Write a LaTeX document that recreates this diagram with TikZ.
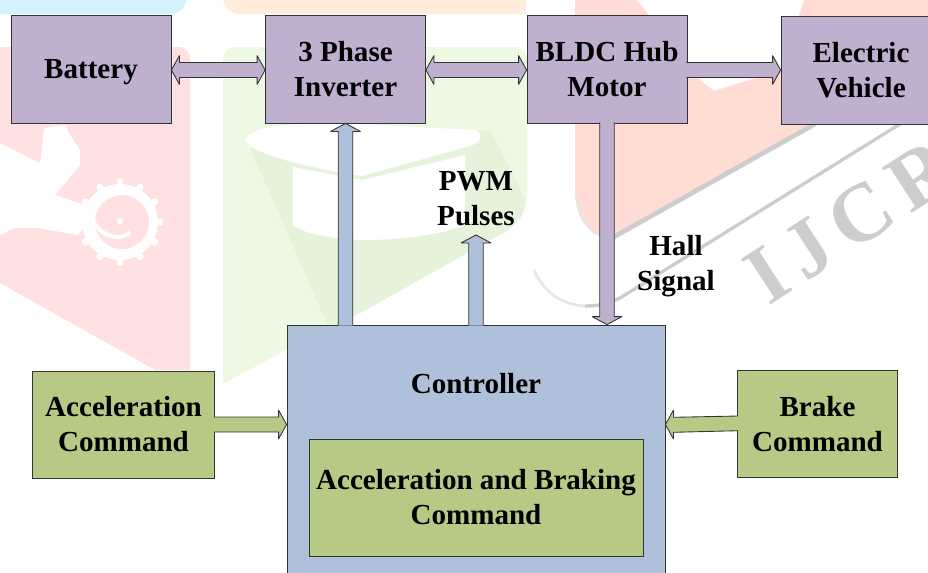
\documentclass[tikz,border=0pt]{standalone}
\usepackage{fontspec}
\setmainfont{Liberation Serif}
\usetikzlibrary{calc}
\definecolor{purp}{HTML}{BFB0D0}
\definecolor{grn}{HTML}{B6CA85}
\definecolor{blu}{HTML}{AFC1DA}
\definecolor{edge}{HTML}{333333}
\definecolor{wred}{HTML}{FFE1E1}
\definecolor{wgrn}{HTML}{EEF9E3}
\definecolor{wgrd}{HTML}{E6F3DB}
\definecolor{wpch}{HTML}{FFECDD}
\definecolor{wblu}{HTML}{D3F4FF}
\definecolor{wsal}{HTML}{FFDCD4}
\definecolor{wgry}{HTML}{CDCDCD}
\definecolor{wgrp}{HTML}{E6E6E6}
\tikzset{
  blockbox/.style={draw=edge,line width=.65pt,inner sep=0pt,align=center,
    font=\fontsize{21.8}{26.25}\selectfont\bfseries},
  smallbox/.style={blockbox,minimum width=120pt,minimum height=81pt},
  label/.style={inner sep=0pt,align=center,font=\fontsize{21.8}{26.25}\selectfont\bfseries},
  fatarrow/.style={draw=edge,line width=.65pt,miter limit=4},
  wmark/.style={inner sep=0pt,text=wgry,rotate=33,anchor=west,
    font=\fontsize{62}{62}\selectfont\bfseries\addfontfeature{LetterSpace=14.5}},
}
% horizontal block arrow, open at the tail: colour, from, to, y
\newcommand{\harrow}[4]{%
  \coordinate (s) at (#2.east |- 0,#4);
  \coordinate (e) at (#3.west |- 0,#4);
  \draw[fatarrow,fill=#1] ($(s)+(-1,-7.5)$) -- ($(e)+(-8,-7.5)$) -- ($(e)+(-8,-14.5)$) -- (e)
    -- ($(e)+(-8,14.5)$) -- ($(e)+(-8,7.5)$) -- ($(s)+(-1,7.5)$);}
% horizontal block arrow with two heads
\newcommand{\darrow}[4]{%
  \coordinate (s) at (#2.east |- 0,#4);
  \coordinate (e) at (#3.west |- 0,#4);
  \draw[fatarrow,fill=#1] (s) -- ($(s)+(8,-14.5)$) -- ($(s)+(8,-7.5)$) -- ($(e)+(-8,-7.5)$)
    -- ($(e)+(-8,-14.5)$) -- (e) -- ($(e)+(-8,14.5)$) -- ($(e)+(-8,7.5)$) -- ($(s)+(8,7.5)$)
    -- ($(s)+(8,14.5)$) -- cycle;}
\begin{document}
\begin{tikzpicture}[x=.75pt,y=-.75pt]
\useasboundingbox (0,0) rectangle (928,572);
\clip (0,0) rectangle (928,572);
% ---------- watermark ----------
\fill[wblu] (0,0) -- (187,0) .. controls (183,10) and (178,14) .. (170,14) -- (0,14) -- cycle;
\fill[wpch] (223,0) .. controls (226,10) and (232,14) .. (240,14) -- (526,14) -- (526,0) -- cycle;
% left red panel and wrench
\fill[wred] (0,47) -- (180,47) .. controls (186,47) and (190,52) .. (190,60) -- (190,370) -- (155,370) -- (0,283) -- cycle;
\fill[white] (0,143) -- (40,163) -- (44,128) -- (66,125) -- (68,132) -- (80,150) -- (80,165) -- (55,195)
  -- (85,205) -- (95,215) -- (78,235) -- (38,228) -- (14,228) -- (0,235) -- cycle;
\foreach \a in {0,30,...,330} \fill[white] ($(120,222)+(\a:40)$) circle (3.6);
\fill[white] (120,222) circle (38);
\fill[wred] (122,222) circle (27);
\draw[white,line width=3pt] (92,218) .. controls (100,240) and (125,240) .. (130,232);
\fill[white] (120,221) circle (3);
% green panel and cap
\fill[wgrn] (223,60) .. controls (223,52) and (228,47) .. (236,47) -- (514,47) .. controls (522,47) and (527,52) .. (527,60)
  -- (527,195) .. controls (527,212) and (520,222) .. (505,232) -- (223,384) -- cycle;
\fill[wgrd] (250,148) -- (330,330) -- (505,232) .. controls (520,222) and (525,212) .. (525,200) -- (490,130) -- cycle;
\fill[white] (245,140) .. controls (250,125) and (300,122) .. (360,124) -- (475,130) .. controls (484,134) and (482,142) .. (470,146)
  -- (362,176) .. controls (320,170) and (250,155) .. (245,140) -- cycle;
\fill[white] (293,167) -- (362,180) -- (465,155) -- (465,225) .. controls (440,235) and (400,240) .. (365,240)
  .. controls (330,240) and (300,232) .. (293,225) -- cycle;
% right red panel and swoosh
\fill[wsal] (575,0) -- (637,0) -- (700,80) -- (714,91) -- (781,70) -- (804,0) -- (928,0) -- (928,124) -- (815,124)
  -- (615,237) .. controls (595,238) and (577,225) .. (575,195) -- cycle;
\draw[wgrp,line width=1.5pt] (577,200) .. controls (580,225) and (595,238) .. (612,238);
\draw[wgry,line width=3.5pt] (612,238) -- (815,124);
\draw[wgrp,line width=2pt] (534,270) .. controls (545,295) and (565,305) .. (585,306);
\draw[wgry,line width=2.5pt] (585,306) .. controls (600,306) and (610,303) .. (620,298) -- (900,124);
\node[wmark] (wtxt) at (753.6,283.7) {IJCR};
% ---------- boxes ----------
\node[smallbox,fill=purp] (bat) at (91,69) {};
\node[label] (batt) at (91,72) {Battery};
\node[smallbox,fill=purp] (inv) at (345.5,69) {3 Phase\\Inverter};
\node[smallbox,fill=purp] (mot) at (607,69) {BLDC Hub\\Motor};
\node[smallbox,fill=purp] (ev) at (861,70.3) {Electric\\Vehicle};
\node[blockbox,fill=blu,minimum width=283.5pt,minimum height=206.25pt] (ctl) at (476,462.5) {};
\node[label] (ctlt) at (476,384) {Controller};
\node[blockbox,fill=grn,minimum width=250.5pt,minimum height=87.75pt] (abc) at (476,498) {};
\node[label] (abct) at (476,497) {Acceleration and Braking\\Command};
\node[blockbox,fill=grn,minimum width=136.5pt,minimum height=80.25pt] (acc) at (123.5,424.5) {Acceleration\\Command};
\node[blockbox,fill=grn,minimum width=120pt,minimum height=80.25pt] (brk) at (817.5,423.7) {Brake\\Command};
\node[label] (pwm) at (476,199) {PWM\\Pulses};
\node[label] (hall) at (676,266.5) {Hall\\Signal};
% ---------- block arrows ----------
\darrow{purp}{bat}{inv}{70}
\darrow{purp}{inv}{mot}{70}
\harrow{purp}{mot}{ev}{70}
\harrow{grn}{acc}{ctl}{424.5}
% brake arrow, slightly tilted in the reference
\coordinate (bs) at (brk.west |- 0,423.5);
\coordinate (bt) at (ctl.east |- 0,424.5);
\draw[fatarrow,fill=grn] ($(bs)+(1,-7.5)$) -- ($(bt)+(8,-7.2)$) -- ($(bt)+(8,-14.5)$) -- (bt) -- ($(bt)+(8,14.5)$)
  -- ($(bt)+(8,7.8)$) -- ($(bs)+(1,7.2)$);
% inverter feed
\coordinate (it) at (inv.south);
\coordinate (ib) at (it |- ctl.north);
\draw[fatarrow,fill=blu] ($(ib)+(-7.3,1)$) -- ($(it)+(-7.3,8)$) -- ($(it)+(-15,8)$) -- (it) -- ($(it)+(15,8)$)
  -- ($(it)+(7.3,8)$) -- ($(ib)+(7.3,1)$);
% PWM arrow
\coordinate (pt) at (476,235);
\coordinate (pb) at (pt |- ctl.north);
\draw[fatarrow,fill=blu] ($(pb)+(-7.3,1)$) -- ($(pt)+(-7.3,8)$) -- ($(pt)+(-15,8)$) -- (pt) -- ($(pt)+(15,8)$)
  -- ($(pt)+(7.3,8)$) -- ($(pb)+(7.3,1)$);
% hall arrow
\coordinate (ht) at (mot.south);
\coordinate (hb) at (ht |- ctl.north);
\draw[fatarrow,fill=purp] ($(ht)+(-7.3,-1)$) -- ($(hb)+(-7.3,-8)$) -- ($(hb)+(-15,-8)$) -- (hb) -- ($(hb)+(15,-8)$)
  -- ($(hb)+(7.3,-8)$) -- ($(ht)+(7.3,-1)$);
\end{tikzpicture}
\end{document}
